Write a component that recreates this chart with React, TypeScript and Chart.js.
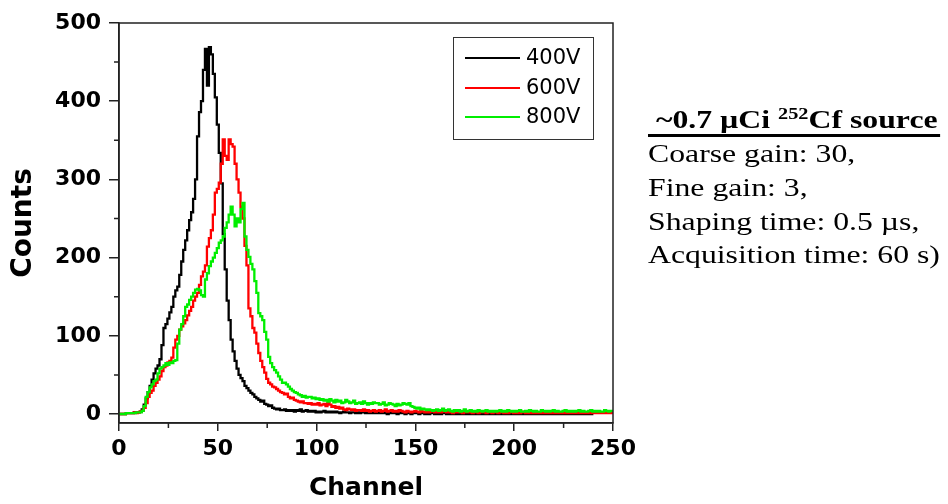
import React, { useEffect, useRef } from "react";
import { Chart, registerables } from "chart.js";

Chart.register(...registerables);

// ---- data (counts per channel, channels 0..250) ----
const seriesLabels = ["400V", "600V", "800V"];
const seriesColors = ["#000000", "#ff0000", "#00ee00"];

const counts400 = [
  0, 0, 0, 0, 1, 1, 1, 1, 2, 2, 2, 3, 6,
  12, 20, 28, 36, 44, 52, 58, 62,
  70, 88, 110, 115, 122, 130, 137, 150, 158, 163,
  178, 195, 210, 222, 235, 248, 258, 275, 300, 355,
  386, 400, 440, 467, 420, 469, 460, 435, 405, 370,
  334, 295, 230, 185, 145, 120, 95, 80, 68, 58,
  50, 46, 42, 36, 33, 30, 27, 25, 22, 20,
  18, 16, 17, 13, 12, 10, 11, 8, 7, 6,
  7, 5, 5, 6, 4, 5, 4, 5, 3, 5,
  4, 6, 3, 4, 5, 3, 4, 3, 4, 2,
  3, 2, 3, 4, 2, 3, 2, 3, 2, 3, 2, 1, 2, 3, 2, 2, 1, 2, 2, 1, 2, 1, 2, 2, 1, 1, 2, 1, 1, 2,
  1, 1, 2, 1, 1, 0, 1, 1, 2, 1, 0, 1, 1, 1, 0, 1, 1, 0, 1, 1,
  1, 0, 1, 1, 0, 1, 0, 1, 1, 0, 1, 0, 0, 1, 1, 0, 1, 0, 1, 0,
  0, 1, 0, 1, 0, 0, 1, 0, 1, 0, 0, 1, 0, 0, 1, 0, 0, 1, 0, 0,
  1, 0, 0, 1, 0, 0, 1, 0, 0, 0, 1, 0, 0, 1, 0, 0, 0, 1, 0, 0,
  0, 1, 0, 0, 0, 1, 0, 0, 1, 0, 0, 0, 1, 0, 0, 0, 1, 0, 0, 0,
  1, 0, 0, 0, 1, 0, 0, 0, 0, 1,
];

const counts600 = [
  0, 0, 0, 0, 1, 1, 1, 1, 2, 1, 2, 3, 4,
  8, 14, 22, 27, 30, 36, 40, 44,
  48, 55, 60, 62, 66, 68, 72, 85, 95, 100,
  108, 112, 116, 120, 126, 132, 137, 145, 150, 155,
  165, 176, 182, 190, 214, 225, 235, 255, 283, 288,
  296, 320, 351, 330, 325, 351, 345, 342, 320, 300,
  283, 265, 250, 215, 190, 135, 125, 110, 104, 90,
  78, 68, 60, 53, 45, 40, 38, 35, 34, 32,
  30, 28, 27, 25, 26, 22, 20, 21, 18, 17,
  16, 15, 16, 14, 14, 13, 14, 12, 13, 12,
  14, 11, 12, 13, 10, 14, 12, 9, 10, 8, 9, 7, 8, 6, 5, 7, 6, 5, 6, 4, 5, 5, 4, 6, 4, 5, 3, 4, 5, 3,
  4, 5, 3, 4, 6, 3, 4, 5, 3, 4, 3, 5, 4, 3, 2, 4, 3, 2, 3, 4,
  3, 2, 4, 3, 2, 3, 2, 4, 3, 2, 3, 2, 2, 3, 4, 2, 3, 2, 1, 3,
  2, 3, 2, 1, 2, 3, 2, 2, 1, 3, 2, 1, 2, 2, 3, 1, 2, 2, 1, 2,
  2, 1, 2, 3, 1, 2, 1, 2, 2, 1, 2, 1, 1, 2, 3, 1, 2, 1, 2, 1,
  1, 2, 1, 2, 1, 1, 2, 1, 3, 1, 2, 1, 1, 2, 1, 2, 1, 1, 2, 1,
  1, 2, 1, 1, 2, 1, 1, 2, 1, 1, 2, 1, 1, 1, 2, 1, 1, 2, 1, 1,
];

const counts800 = [
  0, 0, 0, 0, 1, 1, 1, 1, 1, 2, 2, 2, 4,
  10, 22, 28, 34, 38, 42, 44, 52,
  58, 60, 62, 65, 63, 66, 65, 68, 69, 90,
  108, 115, 125, 137, 140, 146, 150, 155, 159, 160,
  158, 152, 150, 172, 180, 189, 195, 200, 206, 212,
  219, 222, 227, 238, 245, 255, 265, 255, 240, 250,
  245, 262, 270, 227, 210, 201, 192, 185, 170, 155,
  129, 125, 120, 105, 95, 73, 65, 60, 56, 53,
  48, 44, 40, 40, 38, 35, 32, 30, 28, 27,
  25, 24, 22, 23, 21, 22, 22, 20, 21, 19,
  20, 18, 19, 17, 18, 16, 19, 17, 15, 18, 16, 17, 14, 15, 18, 16, 14, 15, 17, 13, 14, 15, 13, 16, 14, 12, 14, 13, 15, 14,
  14, 12, 13, 15, 11, 12, 14, 13, 12, 10, 13, 11, 12, 14, 13, 12, 14, 10, 9, 8,
  7, 8, 6, 7, 6, 5, 6, 5, 4, 5, 6, 4, 5, 7, 4, 5, 6, 4, 3, 5,
  4, 5, 3, 4, 6, 3, 4, 5, 3, 4, 3, 5, 4, 3, 4, 5, 3, 4, 3, 4,
  3, 4, 5, 3, 4, 3, 5, 4, 3, 4, 3, 4, 5, 3, 3, 4, 3, 5, 4, 3,
  4, 3, 3, 5, 4, 3, 4, 3, 4, 5, 3, 4, 3, 3, 4, 5, 3, 4, 3, 4,
  3, 4, 5, 3, 4, 3, 3, 4, 5, 3, 4, 3, 4, 3, 3, 5, 4, 3, 4, 4,
];

const xMajorTicks = [0, 50, 100, 150, 200, 250];
const xMinorTicks = [25, 75, 125, 175, 225];
const yMajorTicks = [0, 100, 200, 300, 400, 500];
const yMinorTicks = [50, 150, 250, 350, 450];

const noteTitleBefore = "~0.7 \u00B5Ci ";
const noteTitleSup = "252";
const noteTitleAfter = "Cf source";
const noteLines = [
  "Coarse gain: 30,",
  "Fine gain: 3,",
  "Shaping time: 0.5 \u00B5s,",
  "Acquisition time: 60 s)",
];

const AXIS_COLOR = "#222222";

const framePlugin = {
  id: "frameMinor",
  afterDraw(chart: any) {
    const { ctx, chartArea } = chart;
    const xs = chart.scales.x;
    const ys = chart.scales.y;
    ctx.save();
    ctx.strokeStyle = AXIS_COLOR;
    ctx.lineWidth = 1.5;
    ctx.strokeRect(chartArea.left, chartArea.top, chartArea.right - chartArea.left, chartArea.bottom - chartArea.top);
    ctx.beginPath();
    for (const v of xMinorTicks) {
      const px = xs.getPixelForValue(v);
      ctx.moveTo(px, chartArea.bottom);
      ctx.lineTo(px, chartArea.bottom + 5);
    }
    for (const v of yMinorTicks) {
      const py = ys.getPixelForValue(v);
      ctx.moveTo(chartArea.left, py);
      ctx.lineTo(chartArea.left - 5, py);
    }
    ctx.stroke();
    ctx.restore();
  },
};

const legendPlugin = {
  id: "boxLegend",
  afterDraw(chart: any) {
    const { ctx } = chart;
    ctx.save();
    ctx.strokeStyle = "#333333";
    ctx.lineWidth = 1;
    ctx.strokeRect(453.5, 37.5, 140, 102);
    const rows = [58, 88, 117];
    ctx.font = '21px "DejaVu Sans"';
    ctx.textBaseline = "middle";
    ctx.textAlign = "left";
    chart.data.datasets.forEach((ds: any, i: number) => {
      const y = rows[i];
      ctx.strokeStyle = ds.borderColor;
      ctx.lineWidth = 2;
      ctx.beginPath();
      ctx.moveTo(465, y);
      ctx.lineTo(520, y);
      ctx.stroke();
      ctx.fillStyle = "#000";
      ctx.fillText(ds.label, 526, y + 1);
    });
    ctx.restore();
  },
};

const notePlugin = {
  id: "note",
  afterDraw(chart: any) {
    const { ctx } = chart;
    const sx = 1.27;
    ctx.save();
    ctx.translate(648, 0);
    ctx.scale(sx, 1);
    ctx.fillStyle = "#000";
    ctx.textBaseline = "alphabetic";
    ctx.textAlign = "left";
    // title
    ctx.font = 'bold 25px "Liberation Serif"';
    let x = ctx.measureText(" ").width;
    ctx.fillText(noteTitleBefore, x, 128);
    x += ctx.measureText(noteTitleBefore).width;
    ctx.font = 'bold 16px "Liberation Serif"';
    ctx.fillText(noteTitleSup, x, 119);
    x += ctx.measureText(noteTitleSup).width;
    ctx.font = 'bold 25px "Liberation Serif"';
    ctx.fillText(noteTitleAfter, x, 128);
    x += ctx.measureText(noteTitleAfter).width;
    ctx.fillRect(0, 134, x + 2, 3);
    // lines
    ctx.font = '25px "Liberation Serif"';
    const baselines = [162, 196, 230, 263];
    noteLines.forEach((t, i) => ctx.fillText(t, 0, baselines[i]));
    ctx.restore();
  },
};

export default function App() {
  const canvasRef = useRef<HTMLCanvasElement | null>(null);

  useEffect(() => {
    const canvas = canvasRef.current;
    if (!canvas) return;
    const series = [counts400, counts600, counts800];
    const chart = new Chart(canvas, {
      type: "line",
      data: {
        datasets: series.map((arr, i) => ({
          label: seriesLabels[i],
          data: arr.map((v, ch) => ({ x: ch, y: v })),
          borderColor: seriesColors[i],
          backgroundColor: seriesColors[i],
          borderWidth: 2.3,
          pointRadius: 0,
          stepped: "middle" as const,
          fill: false,
          order: 3 - i,
        })),
      },
      options: {
        animation: false,
        responsive: false,
        events: [],
        layout: { padding: { top: 23, right: 335, left: 0, bottom: 0 } },
        plugins: { legend: { display: false }, tooltip: { enabled: false } },
        scales: {
          x: {
            type: "linear",
            min: 0,
            max: 250,
            afterBuildTicks: (s: any) => {
              s.ticks = xMajorTicks.map((v) => ({ value: v }));
            },
            afterFit: (s: any) => {
              s.height = 81;
            },
            grid: { drawOnChartArea: false, drawTicks: true, tickLength: 8, color: AXIS_COLOR, lineWidth: 1.5 },
            border: { display: true, color: AXIS_COLOR, width: 1.5 },
            ticks: {
              color: "#000",
              padding: 5,
              maxRotation: 0,
              font: { family: "DejaVu Sans", weight: "bold", size: 22 },
              callback: (v: any) => String(v),
            },
            title: {
              display: true,
              text: "Channel",
              color: "#000",
              font: { family: "DejaVu Sans", weight: "bold", size: 25 },
              padding: { top: 0, bottom: 1 },
            },
          },
          y: {
            type: "linear",
            min: -11.5,
            max: 500,
            afterBuildTicks: (s: any) => {
              s.ticks = yMajorTicks.map((v) => ({ value: v }));
            },
            afterFit: (s: any) => {
              s.width = 119;
            },
            grid: { drawOnChartArea: false, drawTicks: true, tickLength: 10, color: AXIS_COLOR, lineWidth: 1.5 },
            border: { display: true, color: AXIS_COLOR, width: 1.5 },
            ticks: {
              color: "#000",
              padding: 8,
              font: { family: "DejaVu Sans", weight: "bold", size: 22 },
              callback: (v: any) => String(v),
            },
            title: {
              display: true,
              text: "Counts",
              color: "#000",
              font: { family: "DejaVu Sans", weight: "bold", size: 28 },
              padding: { top: 7, bottom: 0 },
            },
          },
        },
      },
      plugins: [framePlugin, legendPlugin, notePlugin],
    } as any);
    return () => chart.destroy();
  }, []);

  return (
    <div style={{ position: "absolute", left: 0, top: 0, width: 948, height: 504, background: "#fff" }}>
      <canvas ref={canvasRef} width={948} height={504} />
    </div>
  );
}
